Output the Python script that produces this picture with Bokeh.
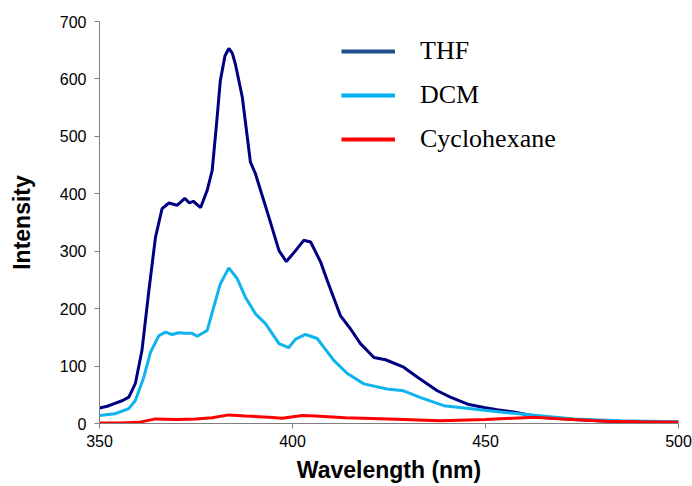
from bokeh.plotting import figure
from bokeh.models import Range1d, Legend, LegendItem, FixedTicker
from bokeh.embed import file_html
from bokeh.resources import INLINE

# THF
thf_wl = [350, 352, 354, 356, 357.6, 359.3, 361, 362.8, 364.5, 366.2, 368, 370.1, 372.1, 373.3,
          374.3, 376.2, 377.9, 379.2, 380.3, 381.3, 382.5, 383.5, 384.4, 385.2, 387, 389.1, 390.4,
          392, 393.9, 396.5, 398.4, 400.8, 402.9, 404.7, 407.3, 409, 412.4, 415, 417.6, 421.1,
          424.1, 428.8, 432.3, 437.5, 440.9, 445.7, 449.6, 453, 457.3, 464.2, 472.9, 481.5, 490, 500]
thf_int = [27, 30, 35, 40, 46, 70, 127, 232, 324, 374, 384, 380, 392, 384,
           387, 376, 406, 441, 520, 597, 640, 653, 645, 626, 568, 455, 435,
           400, 359, 301, 282, 301, 319, 316, 281, 249, 188, 165, 139, 115,
           111, 98, 81, 57, 46, 33, 28, 24, 20, 11, 7, 4, 3, 2]

# DCM
dcm_wl = [350, 354, 357.6, 359.3, 361.5, 363.2, 365.4, 367.1, 368.8, 370.5, 372.3, 374, 375.3,
          377.9, 379.6, 381.3, 383.5, 385.7, 387.8, 390.4, 393, 396.5, 399, 400.8, 403.4, 406.4,
          410.7, 414.2, 418.5, 424.5, 428.8, 433.2, 439.2, 445.7, 449.6, 460, 472.9, 485, 500]
dcm_int = [14, 17, 26, 40, 81, 124, 153, 159, 155, 158, 157, 157, 152,
           162, 203, 243, 271, 252, 220, 191, 174, 139, 132, 147, 155, 148,
           110, 87, 69, 60, 57, 45, 31, 26, 23, 16, 8, 5, 3]

# Cyclohexane
cyc_wl = [350, 355, 360.2, 364.5, 370, 374.9, 379.2, 383.5, 387.8, 393.9, 397.3, 402.5, 405.9,
          413.7, 425, 438.3, 450, 462.5, 470, 481.5, 490, 500]
cyc_int = [1, 1, 2, 8, 7, 8, 10, 15, 13, 11, 9, 14, 13,
           10, 8, 5, 7, 11, 8, 4, 3, 2]

series_names = ["THF", "DCM", "Cyclohexane"]
x_ticks = [350, 400, 450, 500]
y_ticks = [0, 100, 200, 300, 400, 500, 600, 700]

p = figure(width=692, height=486, output_backend="svg", toolbar_location=None,
           x_range=Range1d(350, 500), y_range=Range1d(0, 700),
           min_border_left=99, min_border_right=14, min_border_top=21, min_border_bottom=63)
p.outline_line_color = None
p.xgrid.visible = False
p.ygrid.visible = False

p.line(thf_wl, thf_int, line_color="#000080", line_width=3)
p.line(dcm_wl, dcm_int, line_color="#0fb4ec", line_width=3)
p.line(cyc_wl, cyc_int, line_color="#ff0000", line_width=3)

# legend proxies (hidden renderers, only their legend glyphs show)
l1 = p.line(thf_wl, thf_int, line_color="#1f4e8c", line_width=4, visible=False)
l2 = p.line(dcm_wl, dcm_int, line_color="#00b0f0", line_width=4, visible=False)
l3 = p.line(cyc_wl, cyc_int, line_color="#ff0000", line_width=4, visible=False)

legend = Legend(items=[LegendItem(label=series_names[0], renderers=[l1]),
                       LegendItem(label=series_names[1], renderers=[l2]),
                       LegendItem(label=series_names[2], renderers=[l3])],
                location=(242, 269), orientation="vertical",
                glyph_width=54, glyph_height=20, label_height=30, spacing=14,
                label_standoff=25, padding=0, margin=0,
                border_line_alpha=0, background_fill_alpha=0,
                inactive_fill_alpha=0,
                label_text_font="Liberation Serif", label_text_font_size="26px",
                label_text_color="#000000")
p.add_layout(legend, "center")

for ax in (p.xaxis[0], p.yaxis[0]):
    ax.axis_line_color = "#808080"
    ax.major_tick_line_color = "#808080"
    ax.minor_tick_line_color = None
    ax.major_tick_out = 5
    ax.major_tick_in = 0
    ax.major_label_text_font = "Liberation Sans"
    ax.major_label_text_font_size = "16px"
    ax.major_label_text_color = "#000000"
    ax.axis_label_text_font = "Liberation Sans"
    ax.axis_label_text_font_style = "bold"
    ax.axis_label_text_font_size = "23px"
    ax.axis_label_text_color = "#000000"

p.xaxis.ticker = FixedTicker(ticks=x_ticks)
p.yaxis.ticker = FixedTicker(ticks=y_ticks)
p.xaxis.axis_label = "Wavelength (nm)"
p.yaxis.axis_label = "Intensity"
p.xaxis.major_label_standoff = 6
p.yaxis.major_label_standoff = 8
p.xaxis.axis_label_standoff = 7
p.yaxis.axis_label_standoff = 22

open("out.html", "w").write(file_html(p, INLINE))
